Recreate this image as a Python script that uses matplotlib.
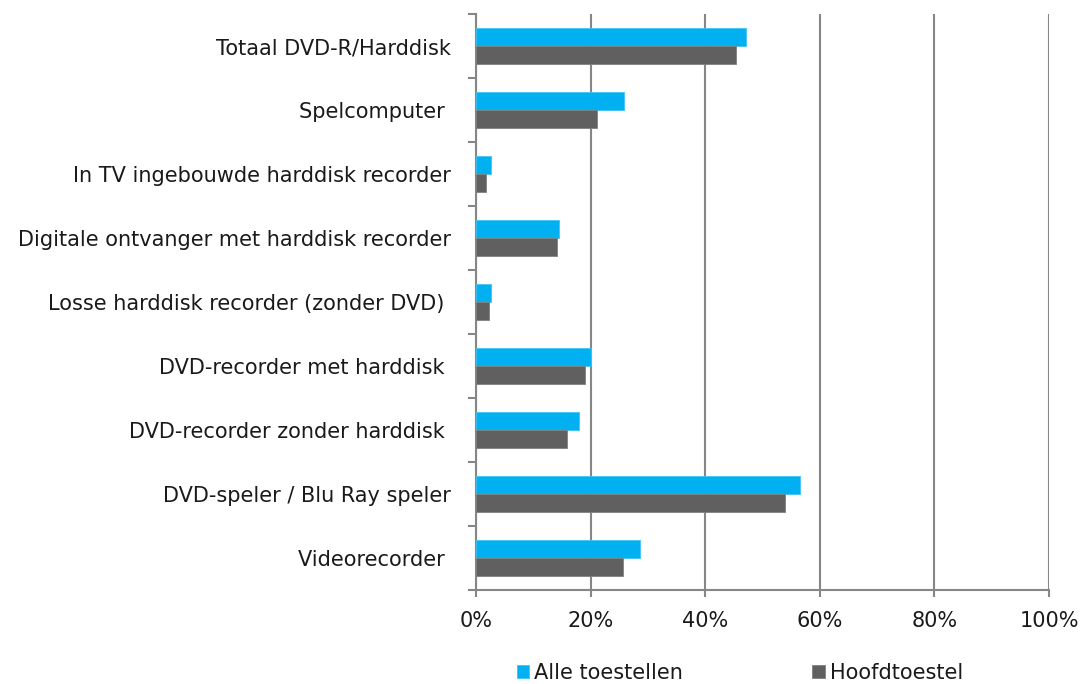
import numpy as np
import matplotlib
matplotlib.use("Agg")
import matplotlib.pyplot as plt
from matplotlib.ticker import FixedLocator, PercentFormatter

plt.rcParams['font.family'] = ['DejaVu Sans']

# data (top to bottom as in the chart)
categories = ["Totaal DVD-R/Harddisk", "Spelcomputer ", "In TV ingebouwde harddisk recorder",
              "Digitale ontvanger met harddisk recorder", "Losse harddisk recorder (zonder DVD) ",
              "DVD-recorder met harddisk ", "DVD-recorder zonder harddisk ",
              "DVD-speler / Blu Ray speler", "Videorecorder "]
alle = [47.1, 25.9, 2.7, 14.4, 2.6, 20.0, 17.9, 56.5, 28.6]
hoofd = [45.4, 21.1, 1.8, 14.2, 2.3, 19.0, 15.8, 54.0, 25.6]

blue = "#00B0F0"
grey = "#606060"
axcol = "#868686"

fig = plt.figure(figsize=(10.84, 6.84), dpi=100)
ax = fig.add_axes([476/1084, 1 - 590/684, 573/1084, 576/684])

y = np.arange(len(categories))
h = 0.28
ax.barh(y - h/2, alle, height=h, color=blue, edgecolor="#40C4F4", linewidth=0.6, label="Alle toestellen", zorder=3)
ax.barh(y + h/2, hoofd, height=h, color=grey, edgecolor="#808080", linewidth=0.6, label="Hoofdtoestel", zorder=3)

ax.set_xlim(0, 100)
ax.set_ylim(len(categories) - 0.5, -0.5)
ax.set_xticks(np.arange(0, 101, 20))
ax.xaxis.set_major_formatter(PercentFormatter(decimals=0))
ax.set_yticks(y)
ax.set_yticklabels(categories)
ax.yaxis.set_minor_locator(FixedLocator(np.arange(-0.5, len(categories), 1)))
ax.tick_params(axis='y', which='major', length=0, pad=18, labelsize=15, labelcolor="#1a1a1a")
ax.tick_params(axis='y', which='minor', length=6, width=1.5, color=axcol, direction='out')
ax.tick_params(axis='x', length=5, width=1.5, color=axcol, labelsize=15, pad=10, labelcolor="#1a1a1a")

ax.grid(axis='x', color=axcol, linewidth=1.5, zorder=0)
for s in ['top', 'right']:
    ax.spines[s].set_visible(False)
for s in ['left', 'bottom']:
    ax.spines[s].set_color(axcol)
    ax.spines[s].set_linewidth(1.5)

leg = fig.legend(loc='center', bbox_to_anchor=(740/1084, 1 - 673/684), ncol=2, frameon=False,
                 fontsize=15, handlelength=0.6, handleheight=0.6, handletextpad=0.25,
                 columnspacing=6.2, borderpad=0)
for t in leg.get_texts():
    t.set_color("#1a1a1a")

fig.savefig("out.png", dpi=100)
